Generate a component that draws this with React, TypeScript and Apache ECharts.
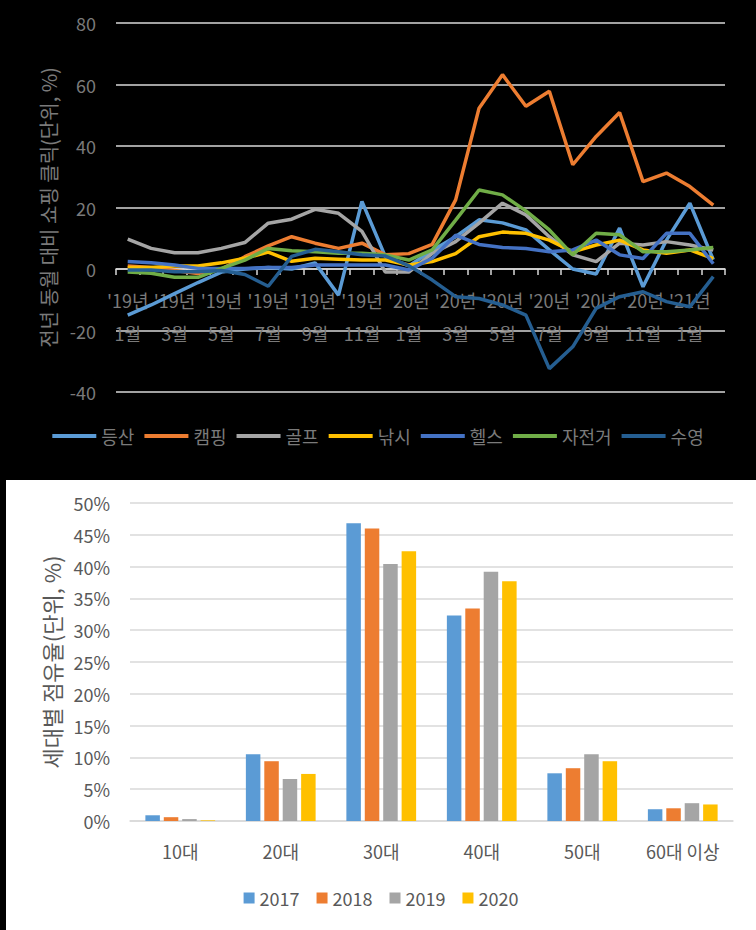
import React, { useEffect, useRef } from "react";
import * as echarts from "echarts";

const FONT = "'Noto Sans CJK KR', 'Noto Sans', sans-serif";

// ---- Top chart data ----
const months = [
  "'19년 1월", "'19년 2월", "'19년 3월", "'19년 4월", "'19년 5월", "'19년 6월",
  "'19년 7월", "'19년 8월", "'19년 9월", "'19년 10월", "'19년 11월", "'19년 12월",
  "'20년 1월", "'20년 2월", "'20년 3월", "'20년 4월", "'20년 5월", "'20년 6월",
  "'20년 7월", "'20년 8월", "'20년 9월", "'20년 10월", "'20년 11월", "'20년 12월",
  "'21년 1월", "'21년 2월",
];
const hiking = [-15, -11.7, -8, -4.4, -1, 0, 0.5, 0, 2, -8.5, 22, 4, 1, 6, 10.5, 16, 15, 12.7, 6.2, 0, -1.6, 13.3, -5.8, 9.4, 21.4, 3];
const camping = [1, 0.5, -0.5, -1.5, 0, 4, 7.5, 10.5, 8.4, 6.7, 8.4, 4.6, 5, 8, 22.5, 52.3, 63.2, 52.9, 57.8, 33.9, 43.1, 50.9, 28.4, 31.2, 26.8, 20.8];
const golf = [9.7, 6.7, 5.3, 5.3, 6.7, 8.6, 14.9, 16.2, 19.4, 18.1, 12.2, -1, -1, 5.1, 8.9, 14.9, 21.4, 17.6, 10.5, 4.6, 2.4, 8.4, 7.8, 8.9, 7.8, 6.2];
const fishing = [0.5, 0.5, 1, 1, 2, 3.5, 5.5, 2.5, 3.5, 3.2, 2.9, 2.9, 1.3, 2.4, 5, 10.5, 12, 11.6, 9.4, 5.6, 7.8, 9.4, 6.2, 5.1, 6.2, 3.4];
const health = [2.4, 2, 1.3, 0.2, 0.2, 0.2, 0.5, 0.5, 1.3, 1.3, 1.3, 1.3, -0.3, 3.5, 11, 8, 7, 6.7, 5.6, 6.2, 9.4, 4.6, 3.4, 11.6, 11.6, 1.7];
const cycling = [-1, -1.4, -2.7, -2.7, 0.2, 2.9, 6.7, 5.9, 5.6, 5.1, 5.1, 4.6, 2.9, 6.2, 15.9, 25.7, 24.1, 18.9, 12.7, 4.6, 11.6, 11.1, 5.6, 5.6, 6.2, 7];
const swimming = [-0.3, -0.3, -0.9, -0.9, -0.5, -1.8, -5.6, 4.1, 6.4, 5.6, 4.6, 4.2, 1.1, -3.6, -9, -9.6, -11.7, -15, -32.4, -25.3, -12.8, -9, -7.4, -10.6, -12.3, -2.5];

const lineNames = ["등산", "캠핑", "골프", "낚시", "헬스", "자전거", "수영"];
const lineData = [hiking, camping, golf, fishing, health, cycling, swimming];
const lineColors = ["#5B9BD5", "#ED7D31", "#A5A5A5", "#FFC000", "#4472C4", "#70AD47", "#255E91"];

// ---- Bottom chart data ----
const ageGroups = ["10대", "20대", "30대", "40대", "50대", "60대 이상"];
const years = ["2017", "2018", "2019", "2020"];
const share2017 = [0.9, 10.5, 46.8, 32.3, 7.5, 1.85];
const share2018 = [0.6, 9.4, 46.0, 33.4, 8.3, 2.0];
const share2019 = [0.3, 6.6, 40.4, 39.2, 10.5, 2.8];
const share2020 = [0.1, 7.4, 42.4, 37.7, 9.4, 2.6];
const barData = [share2017, share2018, share2019, share2020];
const barColors = ["#5B9BD5", "#ED7D31", "#A5A5A5", "#FFC000"];

const TOP_TEXT = "#7a7a7a";
const BOT_TEXT = "#595959";
const GRID = "#d9d9d9";

export default function App() {
  const topRef = useRef<HTMLDivElement>(null);
  const botRef = useRef<HTMLDivElement>(null);

  useEffect(() => {
    const top = echarts.init(topRef.current!, undefined, { renderer: "svg" });
    top.setOption({
      animation: false,
      backgroundColor: "#000",
      textStyle: { fontFamily: FONT },
      grid: { left: 116, right: 31, top: 23, bottom: 88 },
      legend: {
        top: 422,
        left: "center",
        itemWidth: 44,
        itemHeight: 4,
        itemGap: 10,
        icon: "rect",
        textStyle: { color: TOP_TEXT, fontSize: 18, fontFamily: FONT },
        data: lineNames,
      },
      xAxis: {
        type: "category",
        data: months,
        boundaryGap: true,
        offset: -123,
        axisLine: { onZero: false, lineStyle: { color: GRID, width: 1.5 } },
        axisTick: { show: true, interval: 0, length: 6, lineStyle: { color: GRID, width: 1.5 } },
        axisLabel: {
          interval: 1,
          color: TOP_TEXT,
          fontSize: 18,
          fontFamily: FONT,
          margin: 14,
          lineHeight: 33,
          formatter: (v: string) => v.replace(" ", "\n"),
        },
      },
      yAxis: {
        type: "value",
        min: -40,
        max: 80,
        interval: 20,
        name: "전년 동월 대비 쇼핑 클릭(단위, %)",
        nameLocation: "middle",
        nameGap: 58,
        nameTextStyle: { color: TOP_TEXT, fontSize: 20, fontFamily: FONT },
        axisLine: { show: false },
        axisTick: { show: false },
        axisLabel: { color: TOP_TEXT, fontSize: 18, fontFamily: FONT, margin: 20 },
        splitLine: { lineStyle: { color: GRID, width: 1.5 } },
      },
      series: lineNames.map((n, i) => ({
        name: n,
        type: "line",
        data: lineData[i],
        symbol: "none",
        color: lineColors[i],
        itemStyle: { color: lineColors[i] },
        lineStyle: { width: 3.5, color: lineColors[i] },
      })),
    });

    const bot = echarts.init(botRef.current!, undefined, { renderer: "svg" });
    bot.setOption({
      animation: false,
      backgroundColor: "#fff",
      textStyle: { fontFamily: FONT },
      grid: { left: 124, right: 23, top: 23, bottom: 109 },
      legend: {
        top: 404,
        left: "center",
        itemWidth: 11,
        itemHeight: 11,
        itemGap: 17,
        icon: "rect",
        textStyle: { color: BOT_TEXT, fontSize: 18, fontFamily: FONT },
        data: years,
      },
      xAxis: {
        type: "category",
        data: ageGroups,
        axisLine: { lineStyle: { color: GRID, width: 1.5 } },
        axisTick: { show: false },
        axisLabel: { color: BOT_TEXT, fontSize: 18, fontFamily: FONT, margin: 21 },
      },
      yAxis: {
        type: "value",
        min: 0,
        max: 50,
        interval: 5,
        name: "세대별 점유율(단위, %)",
        nameLocation: "middle",
        nameGap: 68,
        nameTextStyle: { color: BOT_TEXT, fontSize: 22, fontFamily: FONT },
        axisLine: { show: false },
        axisTick: { show: false },
        axisLabel: { color: BOT_TEXT, fontSize: 18, fontFamily: FONT, margin: 20, formatter: "{value}%" },
        splitLine: { lineStyle: { color: GRID, width: 1.5 } },
      },
      series: years.map((y, i) => ({
        name: y,
        type: "bar",
        data: barData[i],
        barWidth: 14.5,
        barGap: "27%",
        itemStyle: { color: barColors[i] },
      })),
    });

    return () => {
      top.dispose();
      bot.dispose();
    };
  }, []);

  return (
    <div style={{ position: "absolute", left: 0, top: 0, width: 756, height: 930, background: "#000" }}>
      <div ref={topRef} style={{ position: "absolute", left: 0, top: 0, width: 756, height: 480 }} />
      <div ref={botRef} style={{ position: "absolute", left: 6, top: 480, width: 750, height: 450 }} />
    </div>
  );
}
